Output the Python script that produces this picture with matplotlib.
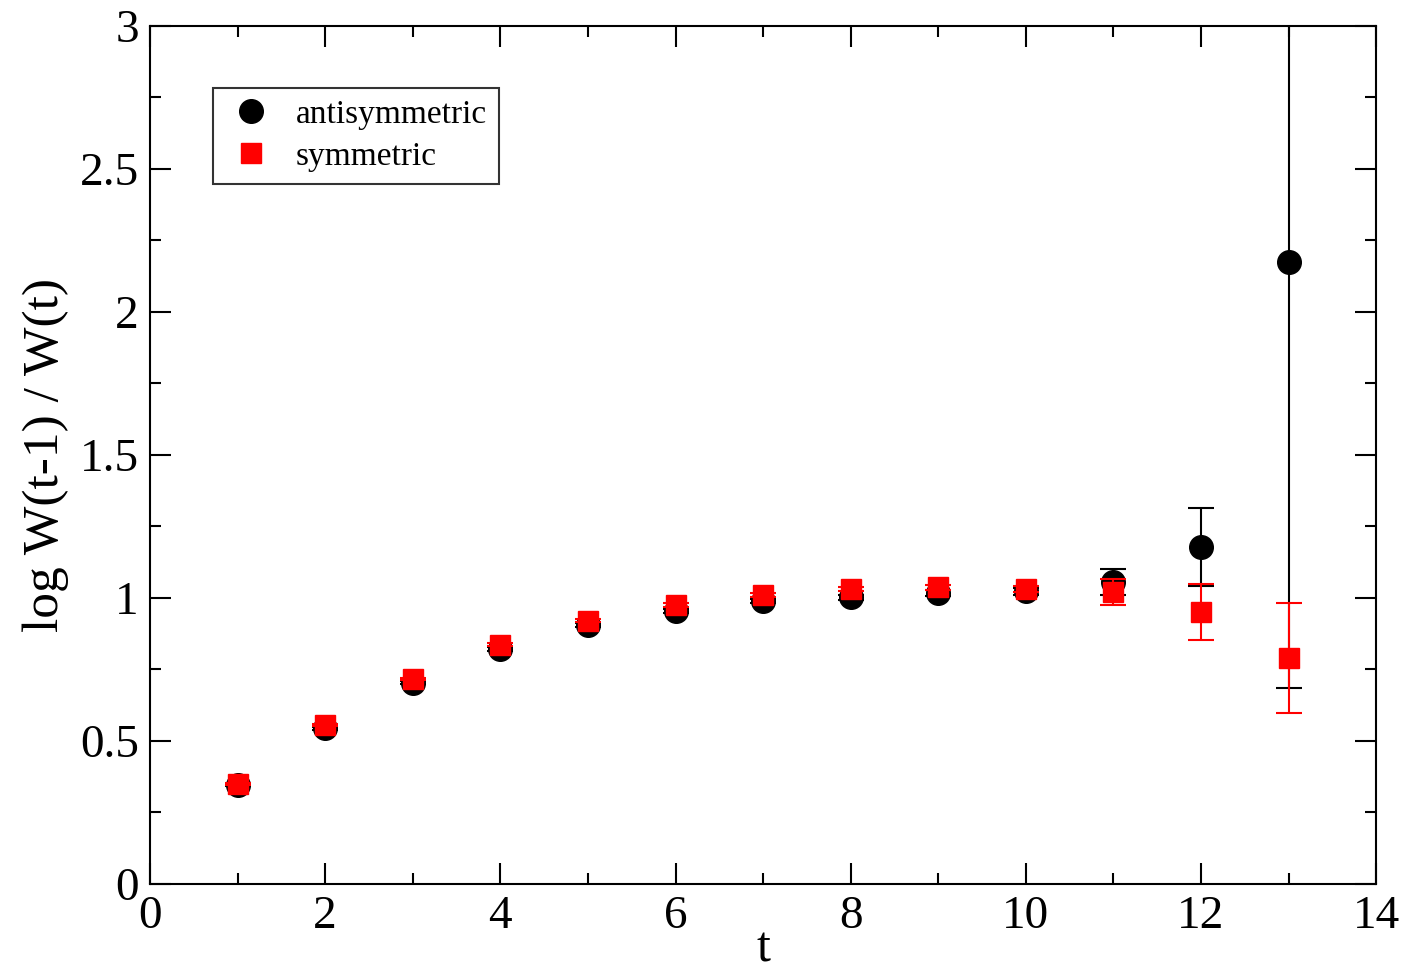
import numpy as np
import matplotlib.pyplot as plt
from matplotlib.ticker import MultipleLocator
from matplotlib.lines import Line2D

t = [1, 2, 3, 4, 5, 6, 7, 8, 9, 10, 11, 12, 13]

anti = [0.346, 0.545, 0.703, 0.822, 0.906, 0.955, 0.990, 1.003, 1.017, 1.024, 1.056, 1.178, 2.175]
anti_err = [0.004, 0.005, 0.005, 0.006, 0.006, 0.007, 0.008, 0.009, 0.010, 0.012, 0.044, 0.137, 1.49]

sym = [0.350, 0.556, 0.717, 0.836, 0.920, 0.976, 1.010, 1.031, 1.038, 1.031, 1.021, 0.951, 0.790]
sym_err = [0.003, 0.004, 0.004, 0.005, 0.005, 0.006, 0.007, 0.008, 0.009, 0.011, 0.045, 0.098, 0.192]

plt.rcParams['font.family'] = ['Liberation Serif', 'DejaVu Serif']

fig = plt.figure(figsize=(14.07, 9.73), dpi=100)
ax = fig.add_axes([0.1066, 0.0915, 0.8715, 0.8818])

ax.errorbar(t, anti, yerr=anti_err, fmt='o', color='black', ms=17,
            capsize=9.5, elinewidth=1.5, capthick=1.5, zorder=2)
ax.errorbar(t, sym, yerr=sym_err, fmt='s', color='red', ms=15,
            capsize=9.5, elinewidth=1.5, capthick=1.5, zorder=3)

ax.set_xlim(0, 14)
ax.set_ylim(0, 3)
ax.xaxis.set_major_locator(MultipleLocator(2))
ax.xaxis.set_minor_locator(MultipleLocator(1))
ax.yaxis.set_minor_locator(MultipleLocator(0.25))
ax.set_yticks([0, 0.5, 1, 1.5, 2, 2.5, 3])
ax.set_yticklabels(['0', '0.5', '1', '1.5', '2', '2.5', '3'])
ax.tick_params(which='both', direction='in', top=True, right=True, width=1.5)
ax.tick_params(which='major', length=15, labelsize=34, pad=8)
ax.tick_params(which='minor', length=8)
for s in ax.spines.values():
    s.set_linewidth(1.5)

ax.set_xlabel('t', fontsize=36, labelpad=-8)
ax.set_ylabel('log W(t-1) / W(t)', fontsize=37, labelpad=8)

handles = [Line2D([], [], ls='none', marker='o', color='black', ms=17),
           Line2D([], [], ls='none', marker='s', color='red', ms=14)]
leg = ax.legend(handles, ['antisymmetric', 'symmetric'], loc='upper left',
                bbox_to_anchor=(0.051, 0.928), fontsize=24, frameon=True,
                fancybox=False, edgecolor='black', handletextpad=0.55,
                handlelength=1.6, borderpad=0.35, labelspacing=0.35,
                borderaxespad=0)
leg.get_frame().set_linewidth(1.5)

fig.savefig('out.png', dpi=100)
